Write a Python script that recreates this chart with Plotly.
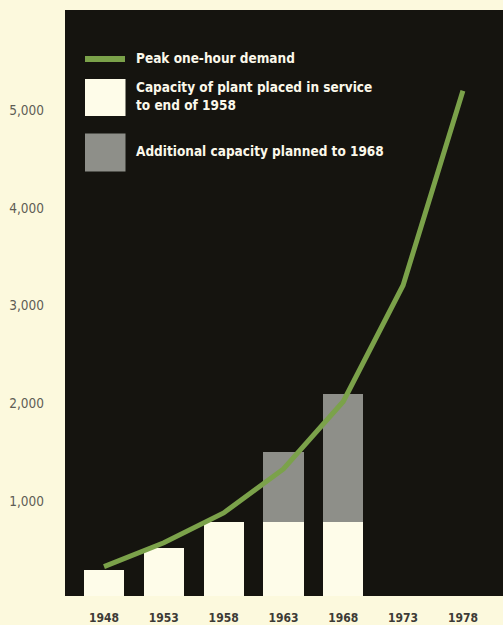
import plotly.graph_objects as go

# Data (megawatts)
years = ["1948", "1953", "1958", "1963", "1968", "1973", "1978"]
bar_years = ["1948", "1953", "1958", "1963", "1968"]
capacity_in_service = [300, 520, 790, 790, 790]
capacity_planned = [0, 0, 0, 710, 1310]
peak_demand = [330, 575, 880, 1330, 2020, 3210, 5200]
y_tick_vals = [1000, 2000, 3000, 4000, 5000]
y_tick_text = ["1,000", "2,000", "3,000", "4,000", "5,000"]

legend_labels = [
    "Peak one-hour demand",
    "Capacity of plant placed in service",
    "to end of 1958",
    "Additional capacity planned to 1968",
]

CREAM = "#fcf9dd"
PANEL = "#15140f"
BAR_WHITE = "#fefce9"
BAR_GRAY = "#8e8f89"
GREEN = "#7ba24a"
COND = "DejaVu Sans Condensed"

W, H = 503, 625
ML, MR, MT, MB = 65, 0, 10, 29
PW, PH = W - ML - MR, H - MT - MB


def px(x):
    return (x - ML) / PW


def py(y):
    return (H - MB - y) / PH


fig = go.Figure()

fig.add_trace(go.Bar(
    x=bar_years, y=capacity_in_service, marker=dict(color=BAR_WHITE, line=dict(width=0)),
    width=0.67, showlegend=False, hoverinfo="skip",
))
fig.add_trace(go.Bar(
    x=bar_years, y=capacity_planned, marker=dict(color=BAR_GRAY, line=dict(width=0)),
    width=0.67, showlegend=False, hoverinfo="skip",
))
fig.add_trace(go.Scatter(
    x=years, y=peak_demand, mode="lines",
    line=dict(color=GREEN, width=5), showlegend=False, hoverinfo="skip",
))

# Legend drawn inside the panel
shapes = [
    dict(type="line", xref="paper", yref="paper", x0=px(85), x1=px(125), y0=py(59), y1=py(59),
         line=dict(color=GREEN, width=6)),
    dict(type="rect", xref="paper", yref="paper", x0=px(85), x1=px(125.5), y0=py(116), y1=py(79),
         fillcolor=BAR_WHITE, line=dict(width=0)),
    dict(type="rect", xref="paper", yref="paper", x0=px(85), x1=px(125.5), y0=py(171.5), y1=py(133.5),
         fillcolor=BAR_GRAY, line=dict(width=0)),
]

legend_font = dict(family=COND, size=13.5, color="#fbf8ea", weight="bold")
annotations = []
for text, yc in zip(legend_labels, [58, 87, 105, 151]):
    annotations.append(dict(
        text=text, xref="paper", yref="paper", x=px(134), y=py(yc),
        xanchor="left", yanchor="middle", showarrow=False, font=legend_font,
    ))

fig.update_layout(
    width=W, height=H,
    margin=dict(l=ML, r=MR, t=MT, b=MB),
    paper_bgcolor=CREAM, plot_bgcolor=PANEL,
    barmode="stack", bargap=0,
    shapes=shapes, annotations=annotations,
    xaxis=dict(
        type="category", categoryorder="array", categoryarray=years,
        range=[-0.652, 6.67], showgrid=False, zeroline=False, showline=False,
        ticks="", ticklabelstandoff=13, automargin=False,
        tickfont=dict(family=COND, size=12, color="#3d3b36", weight="bold"),
    ),
    yaxis=dict(
        range=[30, 6026], showgrid=False, zeroline=False, showline=False,
        tickvals=y_tick_vals, ticktext=y_tick_text, ticks="", ticklabelstandoff=20,
        automargin=False,
        tickfont=dict(family=COND, size=13.5, color="#5e5d55"),
    ),
)

fig.write_html("out.html")
